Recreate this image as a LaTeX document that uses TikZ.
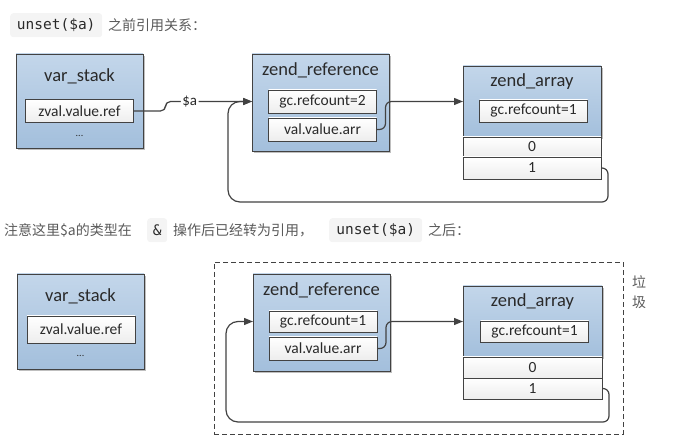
\documentclass[tikz,border=0pt]{standalone}
\usepackage{fontspec}
\setmainfont{Carlito}
\newfontfamily\cjk{Noto Sans CJK SC}
\newfontfamily\codefont{DejaVu Sans Mono}
\usetikzlibrary{arrows.meta,shadows,calc}
\definecolor{edgecol}{HTML}{424242}
\definecolor{bluetop}{HTML}{C3D6EA}
\definecolor{bluebot}{HTML}{A3BFDC}
\definecolor{codebg}{HTML}{F4F4F4}
\definecolor{cjkcol}{HTML}{5A5A5A}
\definecolor{txtcol}{HTML}{2A2A2A}
\tikzset{
  bluebox/.style={draw=edgecol, line width=0.8pt, top color=bluetop, bottom color=bluebot,
    anchor=north west, inner sep=0pt, outer sep=0pt,
    drop shadow={shadow xshift=2pt, shadow yshift=-2pt, opacity=0.25, fill=black}},
  inbox/.style={draw=edgecol, line width=0.7pt, top color=white, bottom color=black!7,
    minimum width=108pt, minimum height=23pt, inner sep=0pt, outer sep=0pt,
    font=\fontsize{15.5}{17}\selectfont, text=txtcol},
  rowbox/.style={draw=edgecol, line width=0.7pt, top color=white, bottom color=black!7,
    anchor=north west, minimum width=138pt, inner sep=0pt, outer sep=0pt,
    font=\fontsize{15.5}{17}\selectfont, text=txtcol},
  ttl/.style={font=\fontsize{18.5}{21}\selectfont, text=txtcol, inner sep=0pt},
  dots/.style={font=\fontsize{10}{12}\selectfont, text=txtcol, inner sep=0pt},
  conn/.style={draw=edgecol, line width=1.2pt, -{Triangle[length=9pt,width=7pt]}},
  codebox/.style={fill=codebg, rounded corners=3pt, anchor=north west, inner sep=0pt,
    font=\codefont\fontsize{14.5}{16}\selectfont, text=txtcol},
  cjktxt/.style={font=\cjk\fontsize{14}{16}\selectfont, text=cjkcol, inner sep=0pt, anchor=west},
  dashbox/.style={draw=edgecol, line width=0.8pt, dash pattern=on 5pt off 3pt, anchor=north west,
    inner sep=0pt, outer sep=0pt}
}
\begin{document}
\begin{tikzpicture}[x=1pt,y=-1pt]
\useasboundingbox (0,0) rectangle (699,446);

% ---------- header 1 ----------
\node[codebox, minimum width=92pt, minimum height=24pt] (code1) at (10,13) {unset(\$a)};
\node[cjktxt] (h1) at (108,25) {之前引用关系：};

% ---------- part 1 ----------
\node[bluebox, minimum width=127pt, minimum height=94pt] (vs1) at (16,54) {};
\node[ttl] (vs1t) at (79.5,76) {var\_stack};
\node[inbox] (zv1) at (79.5,111) {zval.value.ref};
\node[dots] (vs1d) at (79.5,136) {...};

\node[bluebox, minimum width=137pt, minimum height=97pt] (zr1) at (252,54) {};
\node[ttl] (zr1t) at (320.5,70) {zend\_reference};
\node[inbox] (gc1) at (322.5,101.5) {gc.refcount=2};
\node[inbox] (val1) at (322.5,129.5) {val.value.arr};

\node[bluebox, minimum width=138pt, minimum height=71pt] (za1) at (463,66) {};
\node[ttl] (za1t) at (532,82) {zend\_array};
\node[inbox, minimum height=22pt] (zagc1) at (533.5,111) {gc.refcount=1};
\node[rowbox, minimum height=20pt] (r01) at (463,137) {0};
\node[rowbox, minimum height=22pt] (r11) at (463,157) {1};

\draw[conn, rounded corners=5pt] (zv1.east) -- ++(32,0) |-
  node[pos=0.64, fill=white, inner sep=1.5pt, font=\fontsize{15}{17}\selectfont, text=txtcol] (la) {\$a}
  (zr1.west |- gc1.center);
\draw[conn, rounded corners=6pt] (val1.east) -- ++(9,0) |- (za1.west |- gc1.center);
\coordinate (l1a) at (608,202);
\coordinate (l1b) at (228,202);
\draw[conn] (r11.east) [rounded corners=6pt] -| (l1a) [rounded corners=12pt] -- (l1b) |- (zr1.west |- gc1.center);

% ---------- header 2 ----------
\node[cjktxt] (h2a) at (4,230) {注意这里\$a的类型在};
\node[codebox, minimum width=20pt, minimum height=24pt] (code2) at (147,218) {\&};
\node[cjktxt] (h2b) at (173,230) {操作后已经转为引用，};
\node[codebox, minimum width=93pt, minimum height=24pt] (code3) at (329,218) {unset(\$a)};
\node[cjktxt] (h2c) at (428,230) {之后：};

% ---------- part 2 ----------
\node[bluebox, minimum width=127pt, minimum height=95pt] (vs2) at (17,274) {};
\node[ttl] (vs2t) at (80.5,296) {var\_stack};
\node[inbox, minimum height=27pt] (zv2) at (81,329.5) {zval.value.ref};
\node[dots] (vs2d) at (80.5,356) {...};

\node[dashbox, minimum width=409pt, minimum height=172pt] (garbage) at (214,262) {};
\node[font=\cjk\fontsize{14}{16}\selectfont, text=cjkcol, inner sep=0pt] (g1) at (639,282) {垃};
\node[font=\cjk\fontsize{14}{16}\selectfont, text=cjkcol, inner sep=0pt] (g2) at (639,302) {圾};

\node[bluebox, minimum width=137pt, minimum height=97pt] (zr2) at (253,274) {};
\node[ttl] (zr2t) at (321.5,290) {zend\_reference};
\node[inbox, minimum height=21pt] (gc2) at (323,321.5) {gc.refcount=1};
\node[inbox] (val2) at (323,348.5) {val.value.arr};

\node[bluebox, minimum width=139pt, minimum height=71pt] (za2) at (463,286) {};
\node[ttl] (za2t) at (532.5,302) {zend\_array};
\node[inbox, minimum height=21pt] (zagc2) at (534.5,331.5) {gc.refcount=1};
\node[rowbox, minimum width=139pt, minimum height=21pt] (r02) at (463,357) {0};
\node[rowbox, minimum width=139pt, minimum height=21pt] (r12) at (463,378) {1};

\draw[conn, rounded corners=6pt] (val2.east) -- ++(9,0) |- (za2.west |- gc2.center);
\coordinate (l2a) at (609,422);
\coordinate (l2b) at (226,422);
\draw[conn] (r12.east) [rounded corners=6pt] -| (l2a) [rounded corners=12pt] -- (l2b) |- (zr2.west |- gc2.center);
\end{tikzpicture}
\end{document}
